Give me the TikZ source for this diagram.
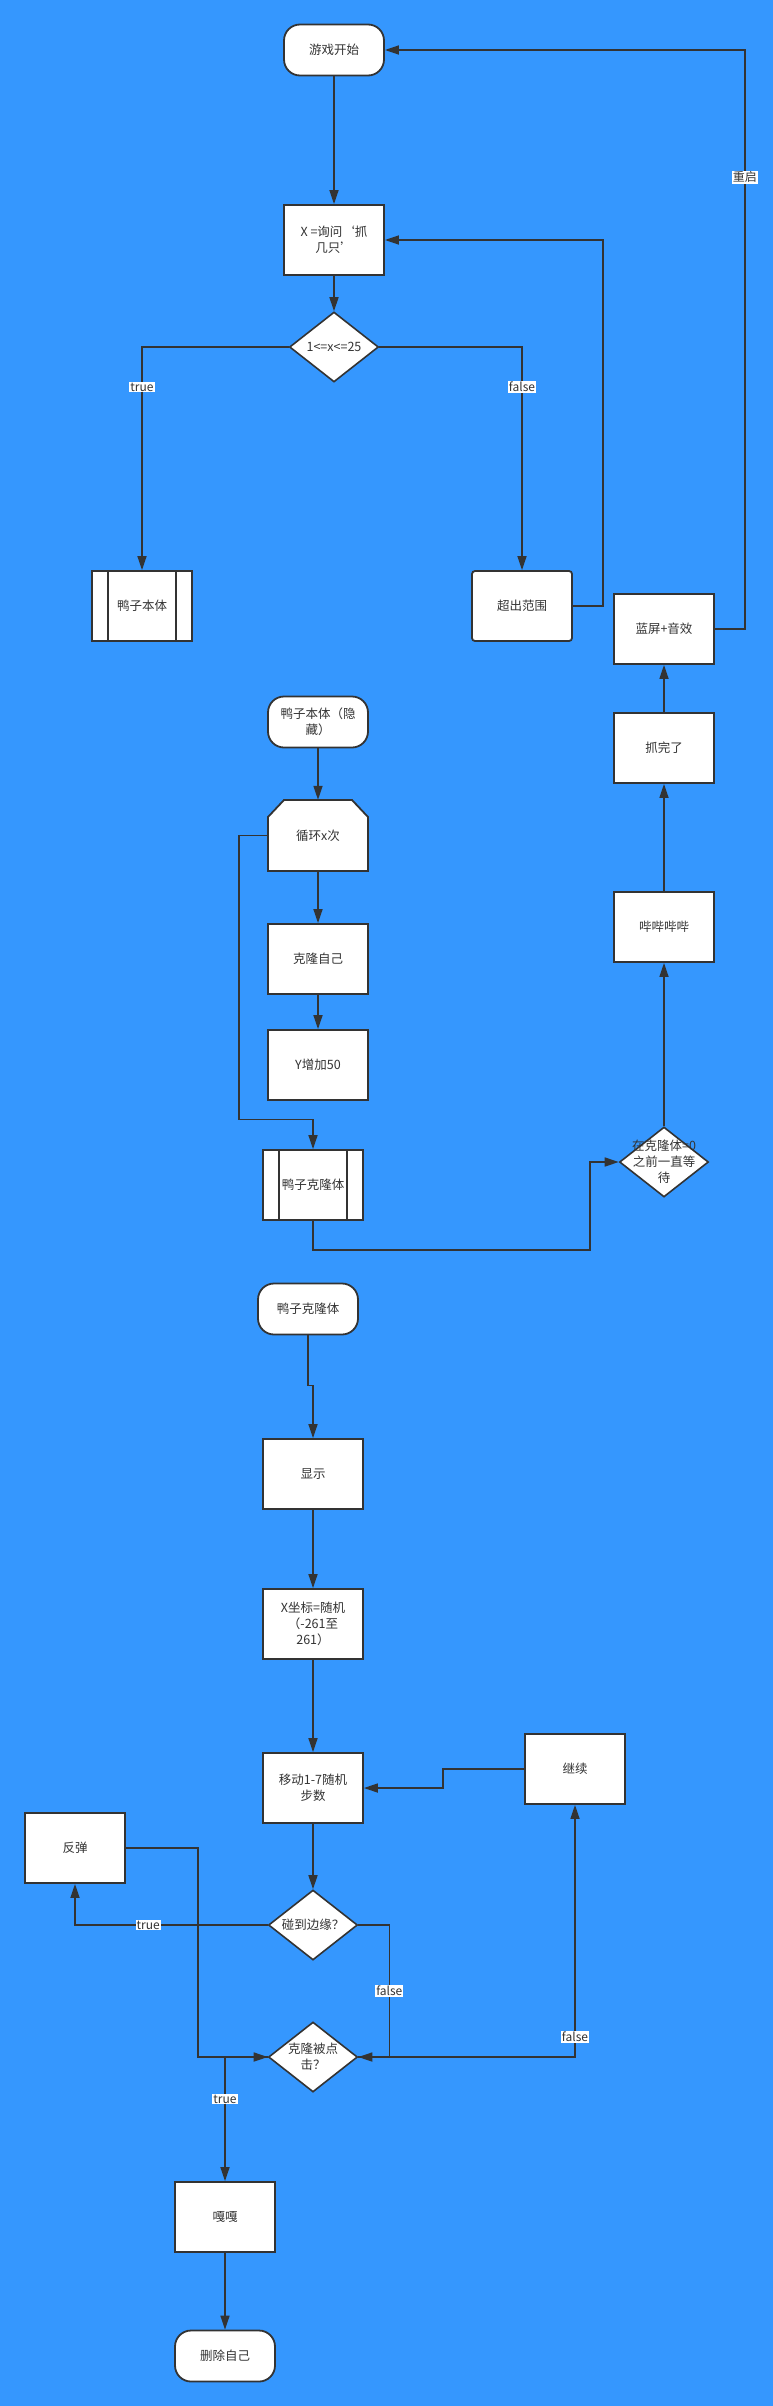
\documentclass[tikz,border=0pt]{standalone}
\usepackage{fontspec}
\setmainfont{Noto Sans CJK SC}[Script=CJK,Language=Chinese Simplified]
\newcommand\fwopen[1]{\makebox[1em][r]{#1}}
\newcommand\fwclose[1]{\makebox[1em][l]{#1}}
\newcommand\fwmid[1]{\makebox[1em][c]{#1}}
\usetikzlibrary{shapes.geometric,arrows.meta}
\definecolor{bgblue}{HTML}{3597FE}
\definecolor{ink}{HTML}{333333}
\begin{document}
\begin{tikzpicture}[x=1pt,y=-1pt,
    box/.style={rectangle,draw=ink,fill=white,line width=1.8pt,minimum width=100pt,minimum height=70pt,inner sep=2pt,align=center,text=ink,font=\fontsize{12.5}{16}\selectfont},
    term/.style={box,minimum height=51pt,rounded corners=16pt},
    subproc/.style={box,path picture={
        \draw[ink,line width=1.2pt] ([xshift=16pt]path picture bounding box.north west) -- ([xshift=16pt]path picture bounding box.south west);
        \draw[ink,line width=1.2pt] ([xshift=-16pt]path picture bounding box.north east) -- ([xshift=-16pt]path picture bounding box.south east);}},
    dec/.style={diamond,draw=ink,fill=white,line width=1.6pt,minimum width=89pt,minimum height=70pt,inner sep=0pt},
    txt/.style={text=ink,align=center,inner sep=0pt,font=\fontsize{12.5}{16}\selectfont},
    lbl/.style={fill=white,text=ink,inner sep=1pt,font=\fontsize{12}{14}\selectfont},
    arr/.style={draw=ink,line width=1.6pt,-{Triangle[length=14pt,width=9pt]}}
]

\fill[bgblue] (0,0) rectangle (773,2406);

\node[term] (start) at (334,50) {游戏开始};
\node[box] (ask) at (334,240) {X =询问\fwopen{‘}抓\\几只\fwclose{’}};
\node[dec,label={[txt]center:1<=x<=25}] (range) at (334,347) {};
\node[subproc] (duck) at (142,606) {鸭子本体};
\node[box,rounded corners=3pt] (outr) at (522,606) {超出范围};
\node[box] (screen) at (664,629) {蓝屏+音效};
\node[box] (caught) at (664,748) {抓完了};
\node[box] (beep) at (664,927) {哔哔哔哔};
\node[dec,label={[txt]center:{在克隆体=0\\之前一直等\\待}}] (wait) at (664,1162) {};

\node[term] (hide) at (318,722) {鸭子本体\fwopen{（}隐\\藏\fwclose{）}};
\draw[draw=ink,fill=white,line width=1.8pt] (268,871) -- (268,817) -- (284,800) -- (352,800) -- (368,817) -- (368,871) -- cycle;
\node[txt,minimum width=100pt,minimum height=71pt] (loop) at (318,835.5) {循环x次};
\node[box] (clone) at (318,959) {克隆自己};
\node[box] (yinc) at (318,1065) {Y增加50};
\node[subproc] (clonesub) at (313,1185) {鸭子克隆体};

\node[term] (cstart) at (308,1309) {鸭子克隆体};
\node[box] (show) at (313,1474) {显示};
\node[box] (xrand) at (313,1624) {X坐标=随机\\\fwopen{（}-261至\\261\fwclose{）}};
\node[box] (move) at (313,1788) {移动1-7随机\\步数};
\node[box] (cont) at (575,1769) {继续};
\node[box] (bounce) at (75,1848) {反弹};
\node[dec,label={[txt]center:碰到边缘\fwmid{？}}] (edge) at (313,1925) {};
\node[dec,label={[txt]center:{克隆被点\\击\fwmid{？}}}] (click) at (313,2057) {};
\node[box] (quack) at (225,2217) {嘎嘎};
\node[term] (del) at (225,2356) {删除自己};

\draw[arr] (start) -- (ask);
\draw[arr] (ask) -- (range);
\draw[arr] (range.west) -| node[lbl,pos=0.59]{true} (duck.north);
\draw[arr] (range.east) -| node[lbl,pos=0.59]{false} (outr.north);
\draw[arr] (outr.east) -- ++(30,0) |- (ask.east);
\draw[arr] (screen.east) -- ++(30,0) |- node[lbl,pos=0.39]{重启} (start.east);
\draw[arr] (caught) -- (screen);
\draw[arr] (beep) -- (caught);
\draw[arr] (wait) -- (beep);

\draw[arr] (hide) -- (loop);
\draw[arr] (loop) -- (clone);
\draw[arr] (clone) -- (yinc);
\draw[arr] (loop.west) -- ++(-29,0) -- ++(0,284) -| (clonesub.north);
\draw[arr] (clonesub.south) -- ++(0,29) -- ++(277,0) |- (wait.west);

\draw[arr] (cstart.south) -- ++(0,50) -| (show.north);
\draw[arr] (show) -- (xrand);
\draw[arr] (xrand) -- (move);
\draw[arr] (move) -- (edge);
\draw[arr] (cont.west) -- ++(-81,0) |- (move.east);
\draw[arr] (edge.west) -| node[lbl,pos=0.31]{true} (bounce.south);
\draw[arr] (bounce.east) -- ++(72,0) |- (click.west);
\draw[arr] (edge.east) -- ++(31,0) |- node[lbl,pos=0.25]{false} (click.east);
\draw[arr] (click.east) -| node[lbl,pos=0.54]{false} (cont.south);
\draw[arr] (click.west) -| node[lbl,pos=0.67]{true} (quack.north);
\draw[arr] (quack) -- (del);

\end{tikzpicture}
\end{document}
